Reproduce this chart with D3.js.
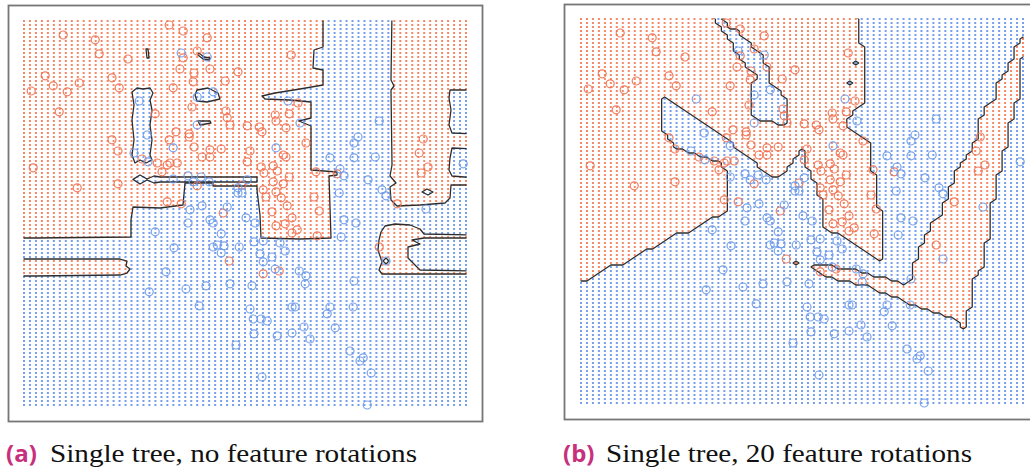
<!DOCTYPE html>
<html>
<head>
<meta charset="utf-8">
<script src="https://cdn.jsdelivr.net/npm/d3@7"></script>
<style>
  html, body { margin: 0; padding: 0; background: #fff; }
  svg { display: block; }
</style>
</head>
<body>
<svg id="chart" width="1030" height="470"></svg>
<script>
// Feature-space extent covered by the evaluation mesh
const xExtent = [0, 110.5];
const yExtent = [0, 96];
const meshCols = 75;
const meshRows = 97;

// Training samples, class 1 (orange)
const classOnePoints = [
  [36.3,95.0],[39.8,93.5],[9.8,92.5],[17.8,91.3],[45.8,91.8],[18.8,87.8],[26.0,86.5],[43.3,88.5],
  [39.8,86.8],[39.0,84.0],[42.5,83.0],[46.5,84.0],[53.5,83.3],[5.3,82.3],[22.0,81.8],[13.8,80.5],
  [7.3,79.8],[23.8,79.3],[42.3,80.8],[50.3,81.0],[37.3,79.3],[1.8,78.5],[10.8,78.3],[8.8,73.3],
  [42.0,74.5],[32.8,72.8],[50.5,73.5],[50.8,71.8],[51.5,70.0],[55.8,69.8],[38.0,68.3],[41.3,67.8],
  [41.3,67.0],[22.0,66.3],[36.3,66.3],[42.5,64.5],[23.5,63.5],[46.5,63.8],[49.3,64.0],[44.5,62.0],
  [46.5,62.0],[29.5,61.5],[33.3,60.5],[35.8,60.0],[36.5,60.5],[38.3,60.5],[34.5,58.3],[2.3,59.3],
  [23.5,55.3],[13.3,54.3],[43.3,54.8],[54.5,55.0],[35.8,50.8],[39.3,50.3],[49.8,48.0],
  [66.8,87.5],[68.5,75.5],[62.8,72.5],[63.0,71.0],[66.3,72.8],[58.8,69.5],[59.5,68.3],[65.5,69.3],
  [70.5,65.5],[56.5,63.5],[64.8,62.5],[65.5,62.0],[55.8,60.8],[59.3,59.5],[62.3,59.8],[60.0,58.0],
  [63.3,58.5],[66.3,57.0],[73.0,58.3],[78.3,57.8],[62.3,55.8],[64.8,55.3],[59.8,53.8],[63.0,53.3],
  [60.5,52.0],[64.3,51.8],[72.5,52.0],[62.0,48.3],[65.8,49.8],[73.8,48.5],[67.0,46.8],[63.0,44.8],
  [65.3,45.3],[67.0,43.0],[68.3,43.8],[73.3,42.3],[99.8,66.5],[98.8,63.0],[101.0,59.5],[99.3,58.0],
  [93.3,50.3],[88.8,39.5],[51.3,36.0],[59.8,32.8],[63.8,33.5]
];

// Training samples, class 0 (blue)
const classZeroPoints = [
  [39.3,88.0],[45.8,87.0],[43.3,77.0],[47.3,78.3],[28.8,76.0],[43.3,70.0],[30.8,67.5],[37.3,64.3],
  [27.5,63.0],[31.0,60.8],[37.3,56.5],[41.0,57.3],[42.3,55.8],[44.3,57.0],[46.3,55.8],[53.5,54.3],
  [55.8,56.3],[53.5,53.0],[54.5,53.0],[41.5,48.8],[44.5,49.8],[50.8,49.5],[55.5,46.8],
  [66.0,76.0],[69.0,70.5],[88.8,71.0],[63.0,64.3],[76.5,61.8],[82.5,61.8],[82.5,65.5],[83.5,67.0],
  [87.8,62.0],[109.8,60.3],[79.0,59.0],[80.0,57.3],[86.0,56.3],[78.8,53.0],[89.5,53.8],[90.5,52.3],
  [100.5,49.0],[57.8,45.5],[80.0,46.3],[83.0,45.5],[79.3,42.0],[90.5,36.0],[57.5,40.8],[59.8,41.0],
  [64.0,40.5],[65.3,38.5],[59.0,37.8],[59.8,35.8],[62.0,37.0],[62.8,34.0],[68.8,33.5],[70.5,32.3],
  [70.3,30.3],[57.0,29.8],[82.5,31.0],[67.0,24.5],[67.8,24.5],[76.5,24.5],[75.8,22.8],[82.3,24.5],
  [56.5,24.0],[57.3,21.5],[59.3,21.5],[60.8,21.0],[77.8,19.3],[70.0,19.5],[57.5,17.8],[63.3,17.3],
  [67.0,18.0],[71.5,16.5],[81.5,13.5],[84.8,11.8],[84.0,11.0],[86.8,8.0],[59.5,7.0],[85.8,0.0],
  [41.0,45.5],[46.5,46.3],[47.3,45.5],[49.3,42.8],[32.8,43.3],[37.5,39.3],[47.3,39.5],[48.3,40.0],
  [50.0,39.8],[49.3,38.0],[53.8,39.5],[35.5,33.3],[31.3,28.3],[40.5,29.0],[45.5,29.8],[51.5,30.3],
  [43.8,24.8],[53.0,15.0]
];

// Decision regions of the plain tree (odd-even rule: inside an odd number => class 1)
const regionsPlainTree = [
  [[-2.5,98.5],[74.75,98.5],[74.75,89.5],[72.5,88.75],[72.25,84.25],[74.75,83.75],[74.75,80],[69,79],
   [62.75,78],[59.5,77.25],[60.25,76.5],[66.5,76.25],[71.75,75.75],[71.75,71.75],[68.75,71],[71.75,69.75],
   [71.75,58.75],[78.25,58.25],[78.25,57.5],[76.25,57.25],[76.75,41.75],[69,41.5],[59.25,41.75],[59,47.5],
   [58.25,53.75],[58.25,54.75],[47.25,54.75],[47.25,55.5],[40.25,55.5],[39.75,50],[34,49.25],[27.25,49.5],
   [26.75,46.25],[26.75,42],[2.75,41.75],[-2.5,41.75]],
  [[27.25,56.4],[29,57.5],[30.75,56.5],[32.5,57.25],[34,57],[58.25,57],[58.25,55.75],[34,55.75],
   [32.5,55.5],[30.75,56.25],[29,55.25]],
  [[27,78.25],[28.25,79.25],[29.75,79],[31.5,79.25],[32.25,78],[31.5,76.25],[32,73.75],[31.5,70],
   [32,66.25],[31.5,62.5],[32,61.25],[30.5,60.5],[29,61.25],[27.75,60.5],[27,62.5],[27.5,66.25],
   [27,71.25],[27.5,75]],
  [[43.25,78.75],[46,79.25],[48.5,78],[49,76.5],[45.75,75.75],[43.25,76],[42.75,77.5]],
  [[43.5,71],[46.5,71],[46.75,70.5],[44,70]],
  [[43.75,88],[45,87],[46.5,86.75],[46.25,86.25],[44.75,86.5],[43.5,87.5]],
  [[30.5,89],[31,89],[31.25,86.75],[30.75,86.75]],
  [[92,98.5],[113,98.5],[113,78.75],[106.5,78.75],[106.25,76.75],[106.75,73.75],[106.25,70],[107,68],
   [113,67.75],[113,64],[107,64.25],[106.5,61.75],[106.25,58.75],[107,57.25],[113,56.75],[113,55],
   [106.75,55],[106.5,51.75],[105.25,50.5],[99,50],[93.25,49.75],[91.75,51.25],[91.5,54.5],[93,55.5],
   [91.5,57.25],[92,60],[91.75,78.75],[92.5,79.75],[91.75,81.25]],
  [[99.5,53.25],[100.75,54],[102.25,53.25],[101,52.5]],
  [[89.25,43.25],[90.25,44.75],[92.75,45.25],[96.5,45],[99,44],[100,42.75],[113,42.5],[113,41.75],
   [100,41.75],[97,41.25],[99,40.25],[96,39.5],[96,36.75],[97.75,35],[99,33.75],[113,33.5],
   [113,32.75],[96.5,32.75],[89.5,32.75],[88.75,33.75],[89.5,35.75],[88.5,38.75],[88.75,41.25]],
  [[89.75,36],[90.5,36.75],[91.25,36],[90.5,35.25]],
  [[-2.5,36.5],[24,36.5],[25.75,36],[25.5,34.75],[26.5,34],[25.75,33],[24,32.5],[2.75,32.25],[-2.5,32.25]]
];

// Decision regions of the tree grown on 20 rotated feature sets
const regionsRotatedTree = [
  [[-2.5,98.5],[33.5,98.5],[33.5,96],[35.25,93.25],[37.25,90.75],[39,87.5],[40.5,85],[42.25,83.25],
   [44,82],[44.75,80.25],[43,80.25],[43,71.25],[44,70.75],[47.75,70.75],[49.25,69.5],[52.25,69.25],
   [52.25,71.5],[51.5,73.25],[51,76.5],[49,78.25],[46.5,80.75],[46.5,81.5],[47.25,82.75],[46.5,84],
   [46,86.25],[44.75,87.75],[43,89],[41.75,90.25],[39.75,92.5],[37.25,94],[35.5,96],[35.5,98.5],
   [69,98.5],[69,90],[70.25,89.5],[70.25,75],[67.75,72.5],[66.5,70.25],[66,68.75],[72.25,65],
   [72.25,58.25],[73.5,57.5],[73.5,49.5],[75.25,48.25],[75.25,36.5],[74.75,35.5],[72.25,36.5],[70.5,38.25],
   [64.75,42.5],[61,43.25],[61,48.25],[59,53.25],[56.5,59],[56,64],[54.75,63.25],[53,60],
   [49.75,56.5],[46.75,56.5],[44.75,59],[40.25,62.5],[36.5,65.75],[32.25,69],[28,71.5],[22.25,75.25],
   [20.5,76.5],[20.5,67.5],[22.25,65.75],[23.5,64],[28,62.5],[34.75,60],[36.5,57.75],[36.5,48.25],
   [34,46.5],[32.25,46.5],[26.5,42.75],[24.25,42.5],[18,38.75],[16.5,38.25],[10.5,35],[8.5,34.75],
   [2.25,30.75],[0.25,30.75],[-2.5,30.75]],
  [[64.25,74.5],[65.25,74.75],[65.5,69.5],[64.5,68.75]],
  [[67.25,85],[68,85.75],[68.75,85],[68,84.25]],
  [[65.75,80.75],[67.25,80.75],[67.25,80],[66.5,79.75],[66.5,77],[67.25,76.75],[67.25,76.25],[65.75,76.25]],
  [[56.25,34.8],[57.25,35],[61.5,34.5],[63,34.2],[69,33.2],[72.25,31.8],[74.75,31.4],[77.25,30.9],
   [79.75,30],[81.75,30],[82.75,30.75],[83.5,32],[83.5,35],[84.25,35.25],[84.75,39],[85.5,40],
   [86.5,42.5],[88,43.25],[88,45.25],[89.75,47],[90.25,48.25],[91,50.75],[92.25,53.25],[93.5,57.5],
   [94.75,60],[96.5,61.5],[97.75,64],[99,66.5],[99.75,70],[100.5,73.25],[102.25,75],[103.5,76.5],
   [104.25,80],[105.5,81.5],[106.5,84],[108,86.5],[109,89],[109.75,90.75],[110.25,91.5],[113.5,95.75],
   [113.5,87],[110.25,86.5],[109.75,85.75],[109.75,78.25],[109,75],[107.75,71.5],[106.75,68.25],[106.5,65],
   [105.5,61.5],[104.75,58.25],[104,55],[103,50.75],[102.25,47.5],[101.75,44.5],[101.5,40.25],[100.5,39],
   [100.25,33.25],[98.5,31.5],[97.75,24],[96.5,23.25],[96,19],[95.5,19],[94.75,20.25],[92.25,21.5],
   [89,22.75],[84,24],[79.75,25.75],[75.5,27.5],[70.5,29.5],[64.75,30.75],[60.5,32],[58.5,33.5]],
  [[52.75,35.25],[53.5,35.75],[54.25,35.25],[53.5,34.75]]
];

// outline: "regions" traces the region polygons, "mesh" traces the predicted mesh (stair-stepped)
const panels = [
  { key: "a", regions: regionsPlainTree, outline: "regions", frame: [8.5, 5.5, 474, 416], xr: [24, 466], yr: [405, 21],
    tag: "(a)", caption: "Single tree, no feature rotations", tagX: 6, capX: 50, capW: 367 },
  { key: "b", regions: regionsRotatedTree, outline: "mesh", frame: [564.5, 4.5, 480, 415], xr: [581, 1023], yr: [403, 19],
    tag: "(b)", caption: "Single tree, 20 feature rotations", tagX: 563, capX: 606, capW: 366 }
];

const orangeDot = "#f47350", blueDot = "#5f8ee8";
const orangeRing = "#f0704e", blueRing = "#6d9aea";

const svg = d3.select("#chart");

panels.forEach(p => {
  const x = d3.scaleLinear().domain(xExtent).range(p.xr);
  const y = d3.scaleLinear().domain(yExtent).range(p.yr);
  const g = svg.append("g").attr("class", "panel-" + p.key);

  // frame
  g.append("rect")
    .attr("x", p.frame[0]).attr("y", p.frame[1])
    .attr("width", p.frame[2]).attr("height", p.frame[3])
    .attr("fill", "#fff").attr("stroke", "#767676").attr("stroke-width", 1.8);

  // mesh of predictions (row-major, row index grows with the second feature)
  const dx = (xExtent[1] - xExtent[0]) / (meshCols - 1);
  const dy = (yExtent[1] - yExtent[0]) / (meshRows - 1);
  const mesh = [];
  const grid = new Array(meshCols * meshRows);
  for (let j = 0; j < meshRows; j++) {
    for (let i = 0; i < meshCols; i++) {
      const pt = [xExtent[0] + i * dx, yExtent[0] + j * dy];
      let n = 0;
      p.regions.forEach(poly => { if (d3.polygonContains(poly, pt)) n++; });
      const cls = n % 2;
      grid[i + j * meshCols] = cls;
      mesh.push({ pt, cls });
    }
  }
  const s = 2.0;
  g.append("g").selectAll("rect").data(mesh).join("rect")
    .attr("x", d => x(d.pt[0]) - s / 2)
    .attr("y", d => y(d.pt[1]) - s / 2)
    .attr("width", s).attr("height", s)
    .attr("fill", d => d.cls ? orangeDot : blueDot)
    .attr("opacity", 0.85);

  // decision boundary, clipped to the mesh area
  const clipId = "clip-" + p.key;
  svg.append("clipPath").attr("id", clipId).append("rect")
    .attr("x", p.xr[0] - 0.5).attr("y", p.yr[1] - 0.5)
    .attr("width", p.xr[1] - p.xr[0] + 1).attr("height", p.yr[0] - p.yr[1] + 1);
  const closed = d3.line().curve(d3.curveLinearClosed);
  let rings;
  if (p.outline === "mesh") {
    const iso = d3.contours().size([meshCols, meshRows]).thresholds([0.5])(grid)[0];
    rings = iso.coordinates.flat().map(ring =>
      ring.map(([gx, gy]) => [x(xExtent[0] + (gx - 0.5) * dx), y(yExtent[0] + (gy - 0.5) * dy)]));
  } else {
    rings = p.regions.map(poly => poly.map(d => [x(d[0]), y(d[1])]));
  }
  g.append("g").attr("clip-path", `url(#${clipId})`)
    .selectAll("path").data(rings).join("path")
    .attr("d", closed)
    .attr("fill", "none").attr("stroke", "#2e2e2e").attr("stroke-width", 1.3)
    .attr("stroke-linejoin", "round");

  // training samples
  const r = 4.0;
  g.append("g").selectAll("circle").data(classOnePoints).join("circle")
    .attr("cx", d => x(d[0])).attr("cy", d => y(d[1])).attr("r", r)
    .attr("fill", "none").attr("stroke", orangeRing).attr("stroke-width", 1.2).attr("opacity", 0.9);
  g.append("g").selectAll("circle").data(classZeroPoints).join("circle")
    .attr("cx", d => x(d[0])).attr("cy", d => y(d[1])).attr("r", r)
    .attr("fill", "none").attr("stroke", blueRing).attr("stroke-width", 1.2).attr("opacity", 0.9);

  // caption
  svg.append("text").attr("x", p.tagX).attr("y", 462)
    .attr("font-family", "'Open Sans', 'DejaVu Sans', sans-serif").attr("font-weight", 700)
    .attr("font-size", 24).attr("fill", "#c7307c").text(p.tag);
  svg.append("text").attr("x", p.capX).attr("y", 462)
    .attr("font-family", "'Liberation Serif', 'DejaVu Serif', serif")
    .attr("font-size", 25.5).attr("fill", "#111")
    .attr("textLength", p.capW).attr("lengthAdjust", "spacingAndGlyphs")
    .text(p.caption);
});
</script>
</body>
</html>
